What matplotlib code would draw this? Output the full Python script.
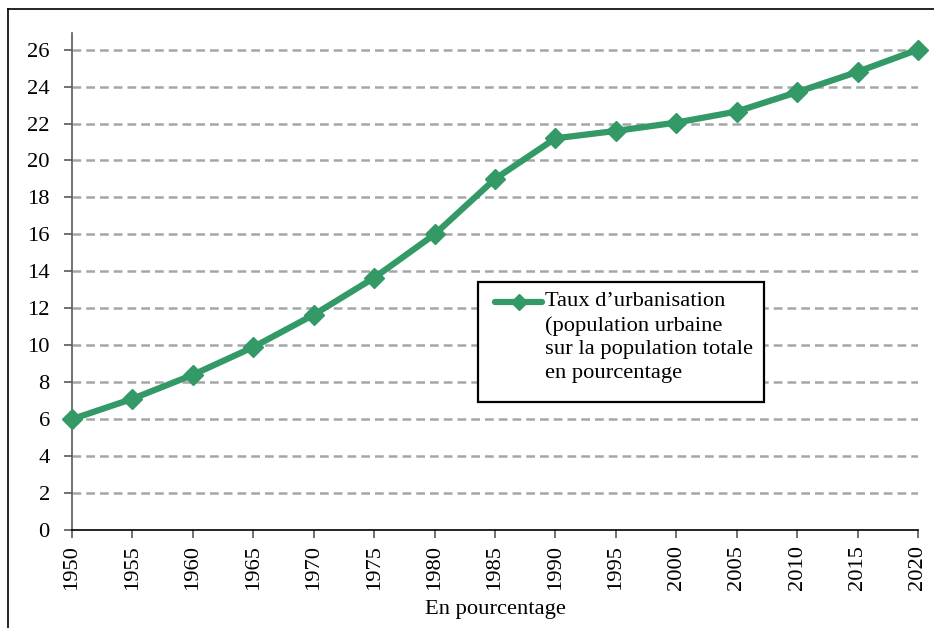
import matplotlib
matplotlib.use("Agg")
import matplotlib.pyplot as plt
from matplotlib.lines import Line2D
from matplotlib.patches import Rectangle

years = [1950, 1955, 1960, 1965, 1970, 1975, 1980, 1985, 1990, 1995, 2000, 2005, 2010, 2015, 2020]
taux = [6.0, 7.1, 8.4, 9.9, 11.65, 13.65, 16.0, 19.0, 21.2, 21.6, 22.05, 22.65, 23.7, 24.8, 26.0]
yticks = [0, 2, 4, 6, 8, 10, 12, 14, 16, 18, 20, 22, 24, 26]
label = "Taux d\u2019urbanisation\n(population urbaine\nsur la population totale\nen pourcentage"
xlabel = "En pourcentage"

plt.rcParams['font.family'] = ['Liberation Serif', 'DejaVu Serif']
color = '#339966'
fs = 16.2

fig = plt.figure(figsize=(9.34, 6.28), dpi=100)
W, H = 934, 628
ax = fig.add_axes([72 / W, 1 - 530 / H, (918 - 72) / W, (530 - 33) / H])

ax.plot(years, taux, color=color, lw=4.5, marker='D', markersize=10.5, zorder=3,
        solid_joinstyle='round', clip_on=False)

ax.set_xlim(1950, 2020)
ax.set_ylim(0, 26.9)
ax.set_xticks(years)
ax.set_xticklabels([str(y) for y in years], rotation=90, fontsize=fs)
ax.set_yticks(yticks)
ax.set_yticklabels([str(v) for v in yticks], fontsize=fs)
for v in yticks[1:]:
    ax.axhline(v, color='#a6a6a6', lw=1.8, ls=(0, (3.5, 2)), zorder=1)

for s in ['top', 'right']:
    ax.spines[s].set_visible(False)
ax.spines['left'].set_color('#595959')
ax.spines['left'].set_linewidth(1.2)
ax.spines['bottom'].set_color('black')
ax.spines['bottom'].set_linewidth(1.2)
ax.tick_params(axis='y', direction='out', length=6, width=1.2, color='#595959', pad=10)
ax.tick_params(axis='x', direction='out', length=6, width=1.2, color='#595959', pad=5)
ax.set_xlabel(xlabel, fontsize=fs, labelpad=7)

# legend drawn manually: box, handle, multi-line text
x0, y0, x1, y1 = 478, 282, 764, 402
fig.add_artist(Rectangle((x0 / W, 1 - y1 / H), (x1 - x0) / W, (y1 - y0) / H,
                         transform=fig.transFigure, facecolor='white', edgecolor='black',
                         lw=1.6, zorder=5))
hy = 1 - 302 / H
fig.add_artist(Line2D([495 / W, 542 / W], [hy, hy], color=color, lw=4.5,
                      transform=fig.transFigure, zorder=6, solid_capstyle='round'))
fig.add_artist(Line2D([519 / W], [hy], color=color, marker='D', markersize=8,
                      transform=fig.transFigure, zorder=6))
fig.text(545 / W, 1 - 292 / H, label, fontsize=fs, va='top', ha='left',
         linespacing=1.33, zorder=7)

# figure border (left and top visible)
fig.add_artist(Line2D([8 / W, 8 / W], [0, 1 - 9 / H], color='black', lw=1.2, transform=fig.transFigure))
fig.add_artist(Line2D([8 / W, 1], [1 - 9 / H, 1 - 9 / H], color='black', lw=1.2, transform=fig.transFigure))

fig.savefig('out.png', dpi=100)
